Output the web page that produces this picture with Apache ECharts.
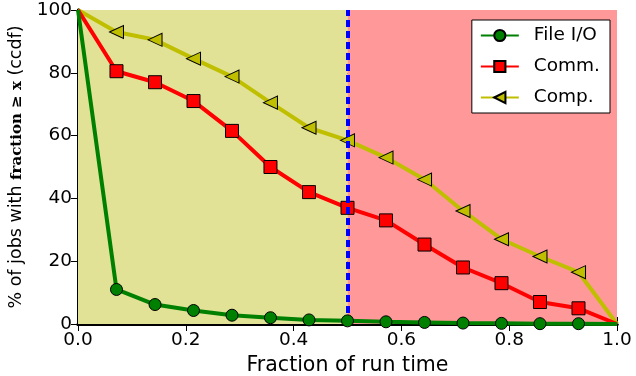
<!DOCTYPE html>
<html>
<head>
<meta charset="utf-8">
<script src="https://cdn.jsdelivr.net/npm/echarts@6/dist/echarts.min.js"></script>
<style>
  html, body { margin: 0; padding: 0; background: #fff; }
  #chart { width: 636px; height: 376px; }
</style>
</head>
<body>
<div id="chart"></div>
<script>
// x positions: fraction of run time (0 .. 1 in 14 steps)
var fractions = [0, 0.0714, 0.1429, 0.2143, 0.2857, 0.3571, 0.4286, 0.5, 0.5714, 0.6429, 0.7143, 0.7857, 0.8571, 0.9286, 1.0];
var fileIO = [100, 11, 6.2, 4.3, 2.8, 2, 1.3, 1, 0.7, 0.5, 0.3, 0.2, 0.1, 0.1, 0];
var comm = [100, 80.5, 77, 71, 61.5, 50, 42, 37, 33, 25.3, 18, 13, 7, 5, 0];
var comp = [100, 93, 90.5, 84.5, 78.8, 70.5, 62.5, 58.5, 53, 46, 36, 27, 21.5, 16.5, 0];
var xTicks = ["0.0", "0.2", "0.4", "0.6", "0.8", "1.0"];

var font = "DejaVu Sans";

function pts(values) {
  return values.map(function (v, i) {
    var item = { value: [fractions[i], v] };
    // matplotlib clips the end markers at the axes
    if (i === 0 || i === values.length - 1) item.symbolSize = 0;
    return item;
  });
}

var dom = document.getElementById("chart");
var myChart = echarts.init(dom, null, { renderer: "canvas" });

var tickStyle = { show: true, inside: true, length: 7, lineStyle: { color: "#000", width: 1 } };

var option = {
  animation: false,
  grid: { left: 78, right: 19, top: 10, bottom: 52, outerBoundsMode: "none", containLabel: false },
  legend: {
    right: 26,
    top: 20,
    orient: "vertical",
    backgroundColor: "#fff",
    borderColor: "#000",
    borderWidth: 1,
    borderRadius: 0,
    padding: [6, 10, 6, 8],
    itemGap: 12,
    itemWidth: 38,
    itemHeight: 14,
    textStyle: { fontFamily: font, fontSize: 18.5, color: "#000", padding: [0, 0, 0, 10] },
    data: ["File I/O", "Comm.", "Comp."]
  },
  xAxis: [
    {
      type: "value",
      min: 0,
      max: 1,
      interval: 0.2,
      name: "Fraction of run time",
      nameLocation: "middle",
      nameGap: 29,
      nameTextStyle: { fontFamily: font, fontSize: 20.5, color: "#000" },
      axisLine: { show: true, lineStyle: { color: "#000", width: 3 } },
      axisTick: tickStyle,
      splitLine: { show: false },
      axisLabel: {
        fontFamily: font, fontSize: 18.5, color: "#000", margin: 7,
        formatter: function (v) { return xTicks[Math.round(v / 0.2)]; }
      }
    },
    {
      type: "value",
      position: "top",
      min: 0,
      max: 1,
      interval: 0.2,
      axisLine: { show: true, lineStyle: { color: "#000", width: 3 } },
      axisTick: tickStyle,
      axisLabel: { show: false },
      splitLine: { show: false }
    }
  ],
  yAxis: [
    {
      type: "value",
      min: 0,
      max: 100,
      interval: 20,
      name: "{a|% of jobs with }{b|fraction ≥ x}{a| (ccdf)}",
      nameLocation: "middle",
      nameGap: 50,
      nameTextStyle: {
        color: "#000",
        rich: {
          a: { fontFamily: font, fontSize: 17.5, color: "#000" },
          b: { fontFamily: "DejaVu Serif", fontWeight: "bold", fontSize: 15, color: "#000" }
        }
      },
      axisLine: { show: true, lineStyle: { color: "#000", width: 3 } },
      axisTick: tickStyle,
      axisLabel: { fontFamily: font, fontSize: 18.5, color: "#000", margin: 6 },
      splitLine: { show: true, lineStyle: { color: "#333", type: [6, 6], width: 1 } }
    },
    {
      type: "value",
      position: "right",
      min: 0,
      max: 100,
      interval: 20,
      axisLine: { show: true, lineStyle: { color: "#000", width: 3 } },
      axisTick: tickStyle,
      axisLabel: { show: false },
      splitLine: { show: false }
    }
  ],
  series: [
    {
      name: "bg",
      type: "line",
      data: [],
      silent: true,
      markArea: {
        silent: true,
        data: [
          [{ xAxis: 0, yAxis: 0, itemStyle: { color: "#e2e297" } }, { xAxis: 0.5, yAxis: 100 }],
          [{ xAxis: 0.5, yAxis: 0, itemStyle: { color: "#ff9999" } }, { xAxis: 1, yAxis: 100 }]
        ]
      },
      z: 0
    },
    {
      name: "Comp.",
      type: "line",
      data: pts(comp),
      symbol: "triangle",
      symbolRotate: 90,
      symbolSize: [13, 14],
      color: "#bfbf00",
      lineStyle: { color: "#bfbf00", width: 4 },
      itemStyle: { color: "#bfbf00", borderColor: "#000", borderWidth: 1 },
      z: 3
    },
    {
      name: "Comm.",
      type: "line",
      data: pts(comm),
      symbol: "rect",
      symbolSize: 13,
      color: "#ff0000",
      lineStyle: { color: "#ff0000", width: 4 },
      itemStyle: { color: "#ff0000", borderColor: "#000", borderWidth: 1 },
      z: 4
    },
    {
      name: "File I/O",
      type: "line",
      data: pts(fileIO),
      symbol: "circle",
      symbolSize: 12,
      color: "#008000",
      lineStyle: { color: "#008000", width: 4 },
      itemStyle: { color: "#008000", borderColor: "#000", borderWidth: 1 },
      markLine: {
        silent: true,
        symbol: "none",
        label: { show: false },
        lineStyle: { color: "#0000ff", width: 4, type: [7, 4] },
        data: [{ xAxis: 0.5 }]
      },
      z: 5
    }
  ]
};

myChart.setOption(option);
window.addEventListener("resize", myChart.resize);
</script>
</body>
</html>
